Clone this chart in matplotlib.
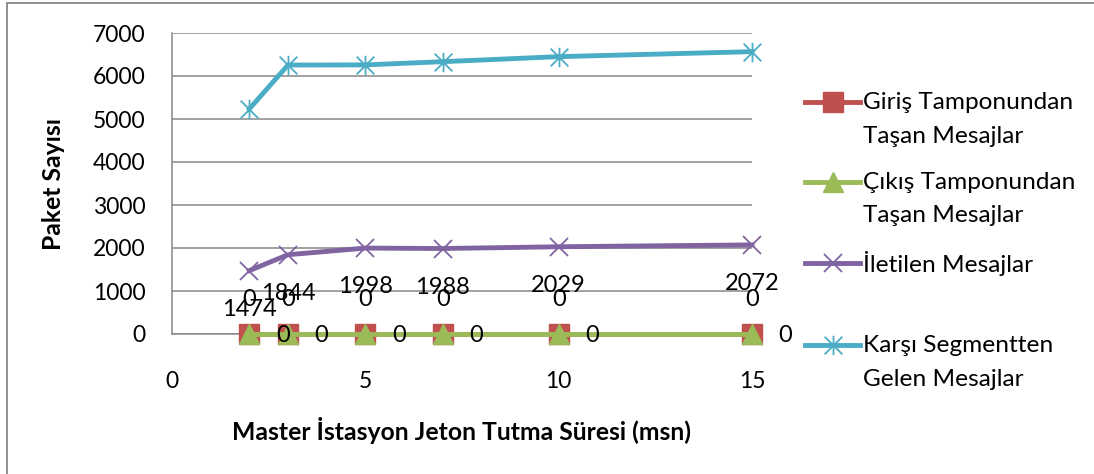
import numpy as np
import matplotlib
matplotlib.use("Agg")
import matplotlib.pyplot as plt
from matplotlib.path import Path
from matplotlib.lines import Line2D
from matplotlib.patches import Rectangle
from matplotlib.legend_handler import HandlerLine2D

plt.rcParams['font.family'] = ['Lato', 'DejaVu Sans']

# jeton tutma süreleri (msn)
sure = [2, 3, 5, 7, 10, 15]
giris_tasan = [0, 0, 0, 0, 0, 0]
cikis_tasan = [0, 0, 0, 0, 0, 0]
iletilen = [1474, 1844, 1998, 1988, 2029, 2072]
karsi_segment = [5235, 6255, 6258, 6333, 6450, 6566]

seri_adlari = ["Giriş Tamponundan\nTaşan Mesajlar",
               "Çıkış Tamponundan\nTaşan Mesajlar",
               "İletilen Mesajlar\n ",
               "Karşı Segmentten\nGelen Mesajlar"]

KIRMIZI = "#C0504D"
YESIL = "#9BBB59"
MOR = "#8064A2"
MAVI = "#4BACC6"
GRI = "#878787"
LW = 3.5

# x ile dikey çizginin birleşimi: yıldız işareti
yildiz = Path([(-1, -1), (1, 1), (-1, 1), (1, -1), (0, -1.1), (0, 1.1)],
              [Path.MOVETO, Path.LINETO, Path.MOVETO, Path.LINETO,
               Path.MOVETO, Path.LINETO])


class IlkSatirHandler(HandlerLine2D):
    """Lejant çizgisini iki satırlık etiketin ilk satırına hizalar."""
    def __init__(self, kaydir, **kw):
        super().__init__(**kw)
        self.kaydir = kaydir

    def create_artists(self, legend, orig_handle, xdescent, ydescent,
                       width, height, fontsize, trans):
        return super().create_artists(legend, orig_handle, xdescent,
                                      ydescent - 2 * self.kaydir, width,
                                      height, fontsize, trans)


fig = plt.figure(figsize=(10.94, 4.74), dpi=100)
ax = fig.add_axes([172 / 1094, 1 - 334 / 474, 580 / 1094, 301 / 474])

l1, = ax.plot(sure, giris_tasan, color=KIRMIZI, lw=LW, marker='s',
              ms=14, mec=KIRMIZI, mfc=KIRMIZI, zorder=3, clip_on=False)
l2, = ax.plot(sure, cikis_tasan, color=YESIL, lw=LW, marker='^',
              ms=14, mec=YESIL, mfc=YESIL, zorder=4, clip_on=False)
l3, = ax.plot(sure, iletilen, color=MOR, lw=LW, marker='x',
              ms=13, mew=1.3, mec=MOR, zorder=5, clip_on=False)
l4, = ax.plot(sure, karsi_segment, color=MAVI, lw=LW, marker=yildiz,
              ms=14, mew=1.3, mec=MAVI, mfc='none', zorder=6, clip_on=False)

# veri etiketleri
for x, y in zip(sure, iletilen):
    ax.annotate(str(y), (x, y), xytext=(0, -28), textcoords='offset points',
                ha='center', va='center', fontsize=17, zorder=8)
for x, y in zip(sure, cikis_tasan):
    ax.annotate(str(y), (x, y), xytext=(0, 25), textcoords='offset points',
                ha='center', va='center', fontsize=17, zorder=8)
for x, y in zip(sure, giris_tasan):
    ax.annotate(str(y), (x, y), xytext=(24, -1), textcoords='offset points',
                ha='center', va='center', fontsize=17, zorder=8,
                annotation_clip=False)

ax.set_xlim(0, 15)
ax.set_ylim(0, 7000)
ax.set_xticks([0, 5, 10, 15])
ax.set_yticks(range(0, 7001, 1000))
ax.yaxis.grid(True, color=GRI, lw=1.1)
ax.set_axisbelow(True)
for s in ['top', 'right']:
    ax.spines[s].set_visible(False)
for s in ['left', 'bottom']:
    ax.spines[s].set_color(GRI)
    ax.spines[s].set_linewidth(1.1)
ax.tick_params(axis='both', length=0, labelsize=16.5)
ax.tick_params(axis='y', pad=19)
ax.tick_params(axis='x', pad=27)

ax.set_xlabel("Master İstasyon Jeton Tutma Süresi (msn)", fontsize=17.8,
              fontweight='bold', labelpad=18)
ax.set_ylabel("Paket Sayısı", fontsize=17.8, fontweight='bold', labelpad=20)

leg = fig.legend([l1, l2, l3, l4], seri_adlari, loc='upper left',
                 bbox_to_anchor=(805 / 1094, 1 - 92 / 474), frameon=False,
                 fontsize=17.6, handlelength=2.25, handletextpad=0.12,
                 labelspacing=1.02, borderaxespad=0, borderpad=0,
                 handler_map={Line2D: IlkSatirHandler(12.5)})
for t in leg.get_texts():
    t.set_linespacing(1.75)

# grafik alanı çerçevesi
fig.patches.append(Rectangle((7 / 1094, -0.2), 1.2, 1.2 - 3 / 474,
                             transform=fig.transFigure, fill=False,
                             ec=GRI, lw=1.3))

fig.savefig("out.png", dpi=100)
